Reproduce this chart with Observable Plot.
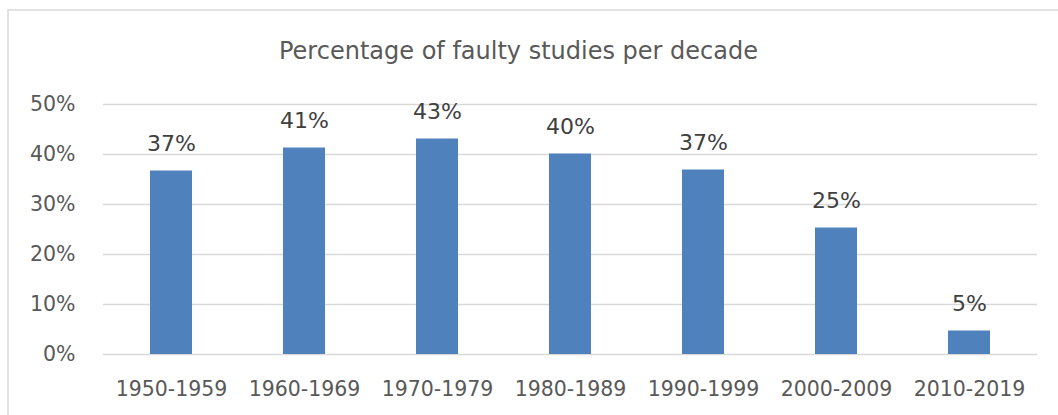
<!DOCTYPE html>
<html>
<head>
<meta charset="utf-8">
<script src="https://cdn.jsdelivr.net/npm/d3@7"></script>
<script src="https://cdn.jsdelivr.net/npm/@observablehq/plot@0.6"></script>
<style>
  html, body { margin: 0; padding: 0; background: #fff; }
  #wrap { position: relative; width: 1058px; height: 415px; overflow: hidden; }
  #frame { position: absolute; left: 7px; top: 9px; width: 1100px; height: 450px; border: 2px solid #e3e3e3; box-sizing: border-box; }
  #title { position: absolute; left: 0; width: 1037px; top: 34px; text-align: center; font-family: "DejaVu Sans", sans-serif; font-size: 24px; color: #595959; line-height: 34px; white-space: nowrap; }
  #chart { position: absolute; left: 0; top: 80px; }
</style>
</head>
<body>
<div id="wrap">
  <div id="frame"></div>
  <div id="title">Percentage of faulty studies per decade</div>
  <div id="chart"></div>
</div>
<script>
const decades = ["1950-1959", "1960-1969", "1970-1979", "1980-1989", "1990-1999", "2000-2009", "2010-2019"];
const shares = [0.367, 0.413, 0.431, 0.401, 0.369, 0.253, 0.047];
const yTicks = [0, 0.1, 0.2, 0.3, 0.4, 0.5];

const data = decades.map((d, i) => ({decade: d, share: shares[i]}));
const pct = d3.format(".0%");

const chart = Plot.plot({
  width: 1058,
  height: 335,
  marginTop: 24,
  marginBottom: 61,
  marginLeft: 103,
  marginRight: 21,
  style: { fontFamily: "DejaVu Sans, sans-serif", background: "transparent" },
  x: { domain: decades, paddingInner: 0.685, paddingOuter: 0.3425, label: null },
  y: { domain: [0, 0.5], label: null },
  marks: [
    Plot.gridY(yTicks, { stroke: "#d9d9d9", strokeOpacity: 1, strokeWidth: 1.5 }),
    Plot.axisY(yTicks, { tickSize: 0, tickPadding: 28, tickFormat: pct, fontSize: 20.5, fill: "#595959", label: null }),
    Plot.axisX({ tickSize: 0, tickPadding: 27, fontSize: 20.5, fill: "#595959", label: null }),
    Plot.barY(data, { x: "decade", y: "share", fill: "#4f81bd" }),
    Plot.text(data, { x: "decade", y: "share", text: d => pct(d.share), lineAnchor: "bottom", dy: -20, fontSize: 22, fill: "#404040" })
  ]
});
document.getElementById("chart").appendChild(chart);
</script>
</body>
</html>
